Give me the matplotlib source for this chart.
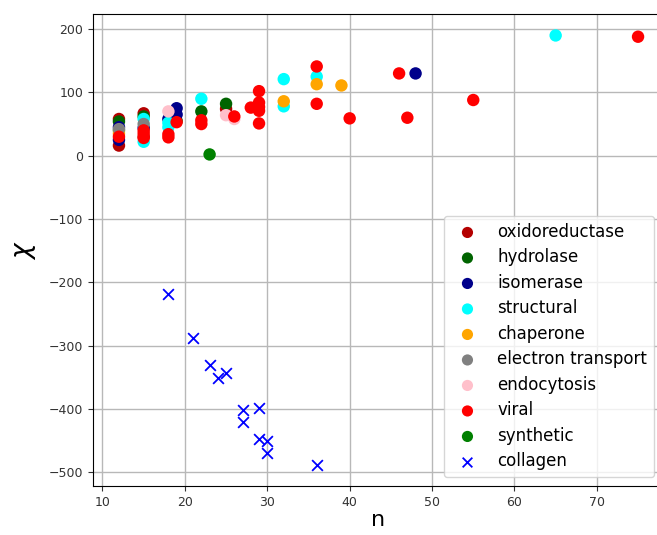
import matplotlib
matplotlib.use("Agg")
import matplotlib.pyplot as plt

categories = ["oxidoreductase", "hydrolase", "isomerase", "structural", "chaperone",
              "electron transport", "endocytosis", "viral", "synthetic", "collagen"]
colors = ["#b40000", "darkgreen", "darkblue", "cyan", "orange",
          "gray", "pink", "red", "green", "blue"]

n_oxido = [12, 12, 15, 15, 25]
chi_oxido = [58, 16, 67, 30, 74]
n_hydro = [12, 15, 19, 22, 25]
chi_hydro = [54, 62, 55, 70, 82]
n_isom = [12, 12, 15, 18, 19, 19, 48]
chi_isom = [45, 25, 44, 58, 75, 65, 130]
n_struct = [12, 15, 15, 18, 18, 22, 32, 32, 36, 65]
chi_struct = [40, 58, 22, 52, 45, 90, 121, 78, 125, 190]
n_chap = [12, 12, 32, 36, 39]
chi_chap = [35, 40, 86, 113, 111]
n_elec = [12, 15]
chi_elec = [42, 50]
n_endo = [18, 25, 26]
chi_endo = [70, 64, 58]
n_viral = [12, 15, 15, 15, 18, 18, 19, 22, 22, 26, 28, 29, 29, 29, 29, 29, 36, 36, 40, 46, 47, 55, 75]
chi_viral = [30, 40, 35, 28, 34, 29, 53, 56, 50, 62, 76, 102, 84, 77, 71, 51, 141, 82, 59, 130, 60, 88, 188]
n_synth = [23]
chi_synth = [2]
n_coll = [18, 21, 23, 24, 25, 27, 27, 29, 29, 30, 30, 36]
chi_coll = [-219, -288, -330, -352, -343, -402, -421, -398, -447, -451, -470, -488]

series = [(n_oxido, chi_oxido), (n_hydro, chi_hydro), (n_isom, chi_isom),
          (n_struct, chi_struct), (n_chap, chi_chap), (n_elec, chi_elec),
          (n_endo, chi_endo), (n_viral, chi_viral), (n_synth, chi_synth),
          (n_coll, chi_coll)]

W, H = 657, 535
fig = plt.figure(figsize=(W / 100, H / 100), dpi=100)
ax = fig.add_axes([93 / W, (H - 486) / H, (664 - 93) / W, (486 - 14) / H])

for cat, col, (xs, ys) in zip(categories, colors, series):
    if cat == "collagen":
        ax.scatter(xs, ys, marker="x", s=60, color=col, linewidths=1.3, label=cat, zorder=3)
    else:
        ax.scatter(xs, ys, marker="o", s=80, color=col, label=cat, zorder=3, edgecolors="none")

ax.grid(True, color="#b8b8b8", linewidth=1.0)
ax.set_axisbelow(True)
ax.set_xticks([10, 20, 30, 40, 50, 60, 70])
ax.set_yticks([-500, -400, -300, -200, -100, 0, 100, 200])
ax.tick_params(labelsize=9, colors="#333333")
ax.set_xlabel("n", fontsize=16, labelpad=1)
ax.set_ylabel(r"$\chi$", fontsize=19, labelpad=8)

ax.legend(loc="lower right", bbox_to_anchor=(654 / W, (H - 477) / H),
          bbox_transform=fig.transFigure, borderaxespad=0, fontsize=12,
          labelspacing=0.45, scatterpoints=1, markerscale=0.9)

fig.savefig("out.png", dpi=100)
